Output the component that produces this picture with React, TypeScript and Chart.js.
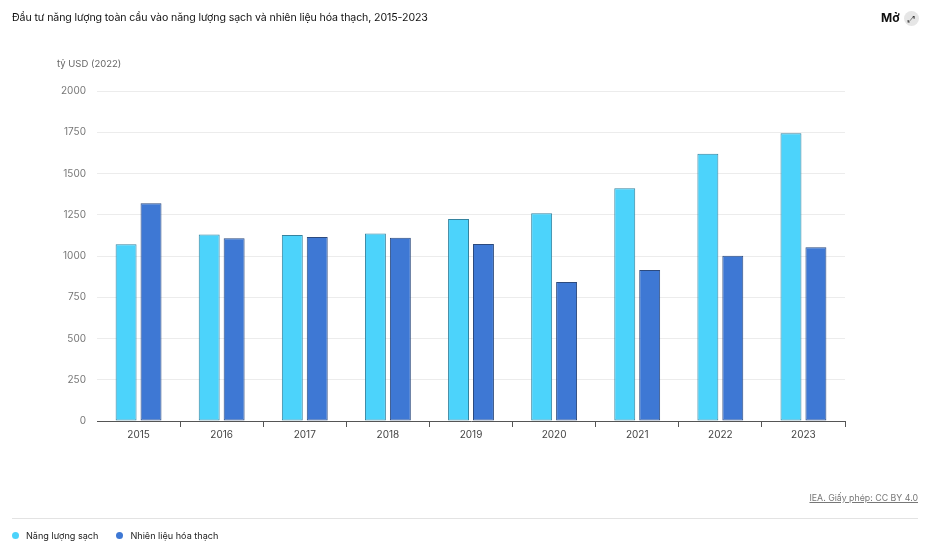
import React, { useEffect, useRef } from "react";
import { Chart, registerables } from "chart.js";

Chart.register(...registerables);

const categories = ["2015", "2016", "2017", "2018", "2019", "2020", "2021", "2022", "2023"];
const cleanEnergy = [1071, 1131, 1127, 1137, 1224, 1259, 1410, 1620, 1744];
const fossilFuels = [1319, 1107, 1115, 1111, 1073, 842, 915, 1002, 1053];
const seriesNames = ["Năng lượng sạch", "Nhiên liệu hóa thạch"];
const yTicks = [0, 250, 500, 750, 1000, 1250, 1500, 1750, 2000];

const FONT = "Inter, 'Noto Sans', sans-serif";
const CLEAN_FILL = "#4cd3fb";
const CLEAN_BORDER = "#35839f";
const FOSSIL_FILL = "#3e78d4";
const FOSSIL_BORDER = "#2c4a7e";

export default function App() {
  const ref = useRef<HTMLCanvasElement | null>(null);

  useEffect(() => {
    if (!ref.current) return;
    const chart = new Chart(ref.current, {
      type: "bar",
      data: {
        labels: categories,
        datasets: [
          {
            label: seriesNames[0],
            data: cleanEnergy,
            backgroundColor: CLEAN_FILL,
            borderColor: CLEAN_BORDER,
            borderWidth: 1,
            borderSkipped: false,
            categoryPercentage: 0.6,
            barPercentage: 0.84,
          },
          {
            label: seriesNames[1],
            data: fossilFuels,
            backgroundColor: FOSSIL_FILL,
            borderColor: FOSSIL_BORDER,
            borderWidth: 1,
            borderSkipped: false,
            categoryPercentage: 0.6,
            barPercentage: 0.84,
          },
        ],
      },
      options: {
        animation: false,
        responsive: false,
        maintainAspectRatio: false,
        layout: { padding: { left: 57, right: 85, top: 91, bottom: 93 } },
        plugins: {
          legend: { display: false },
          tooltip: { enabled: false },
          title: { display: false },
        },
        scales: {
          x: {
            afterFit: (s: any) => {
              s.height = 30;
            },
            border: { display: true, color: "#555", width: 1 },
            grid: {
              offset: true,
              drawOnChartArea: false,
              drawTicks: true,
              tickLength: 6,
              color: (ctx: any) => (ctx.index === 0 ? "rgba(0,0,0,0)" : "#555"),
            },
            ticks: {
              color: "#444",
              padding: 2,
              font: { family: FONT, size: 10 },
            },
          },
          y: {
            min: 0,
            max: 2000,
            afterFit: (s: any) => {
              s.width = 40;
            },
            afterBuildTicks: (s: any) => {
              s.ticks = yTicks.map((v) => ({ value: v }));
            },
            border: { display: false },
            grid: {
              drawTicks: false,
              color: "#ececec",
              lineWidth: 1,
            },
            ticks: {
              color: "#777",
              padding: 11,
              font: { family: FONT, size: 10 },
              callback: (v: any) => String(v),
            },
          },
        },
      },
    });
    return () => chart.destroy();
  }, []);

  return (
    <div
      style={{
        position: "absolute",
        left: 0,
        top: 0,
        width: 930,
        height: 544,
        background: "#fff",
        fontFamily: FONT,
        overflow: "hidden",
      }}
    >
      <canvas ref={ref} width={930} height={544} style={{ position: "absolute", left: 0, top: 0, width: 930, height: 544 }} />
      <div style={{ position: "absolute", left: 12, top: 11, fontSize: 10.6, color: "#111", letterSpacing: -0.1 }}>
        Đầu tư năng lượng toàn cầu vào năng lượng sạch và nhiên liệu hóa thạch, 2015-2023
      </div>
      <div style={{ position: "absolute", left: 881, top: 10, fontSize: 12, fontWeight: 700, color: "#111" }}>Mở</div>
      <div
        style={{
          position: "absolute",
          left: 904,
          top: 11,
          width: 15,
          height: 15,
          borderRadius: 8,
          background: "#e6e6e6",
          color: "#333",
          fontSize: 9,
          lineHeight: "15px",
          textAlign: "center",
        }}
      >
        ⤢
      </div>
      <div style={{ position: "absolute", left: 57, top: 58, fontSize: 9.5, color: "#666" }}>tỷ USD (2022)</div>
      <div
        style={{
          position: "absolute",
          right: 12,
          top: 492,
          fontSize: 8.8,
          color: "#777",
          textDecoration: "underline",
        }}
      >
        IEA. Giấy phép: CC BY 4.0
      </div>
      <div style={{ position: "absolute", left: 12, top: 518, width: 906, height: 1, background: "#e3e3e3" }} />
      <div style={{ position: "absolute", left: 12, top: 530, display: "flex", alignItems: "center", fontSize: 9.1, color: "#222" }}>
        <span style={{ width: 7, height: 7, borderRadius: 4, background: CLEAN_FILL, display: "inline-block", marginRight: 7 }} />
        <span style={{ marginRight: 18 }}>{seriesNames[0]}</span>
        <span style={{ width: 7, height: 7, borderRadius: 4, background: FOSSIL_FILL, display: "inline-block", marginRight: 7 }} />
        <span>{seriesNames[1]}</span>
      </div>
    </div>
  );
}
